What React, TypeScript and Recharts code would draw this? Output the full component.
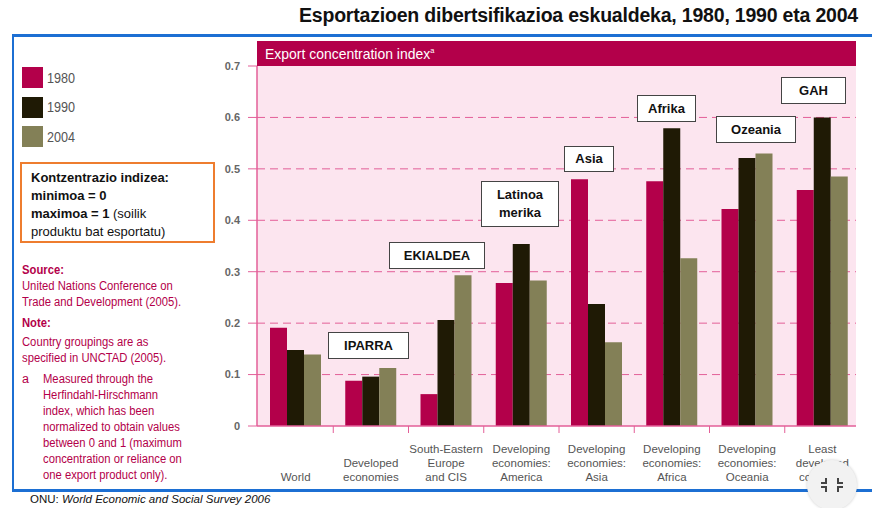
import React from "react"
import { BarChart, Bar, XAxis, YAxis, CartesianGrid } from "recharts"

const categories = [
  "World",
  "Developed economies",
  "South-Eastern Europe and CIS",
  "Developing economies: America",
  "Developing economies: Asia",
  "Developing economies: Africa",
  "Developing economies: Oceania",
  "Least developed countries",
]

const categoryLines = [
  ["World"],
  ["Developed", "economies"],
  ["South-Eastern", "Europe", "and CIS"],
  ["Developing", "economies:", "America"],
  ["Developing", "economies:", "Asia"],
  ["Developing", "economies:", "Africa"],
  ["Developing", "economies:", "Oceania"],
  ["Least", "developed", "countries"],
]

const values1980 = [0.191, 0.088, 0.062, 0.278, 0.48, 0.476, 0.422, 0.459]
const values1990 = [0.148, 0.096, 0.206, 0.354, 0.237, 0.579, 0.521, 0.6]
const values2004 = [0.139, 0.113, 0.293, 0.283, 0.163, 0.326, 0.53, 0.485]

const yTicks = [0, 0.1, 0.2, 0.3, 0.4, 0.5, 0.6, 0.7]
const gridValues = [0.1, 0.2, 0.3, 0.4, 0.5, 0.6]

const seriesNames = ["1980", "1990", "2004"]
const COLORS = ["#b3004a", "#1f1a05", "#838057"]

// region call-outs over the bars
const regionBoxes = [
  { text: ["IPARRA"], left: 328, top: 332, width: 81, height: 27 },
  { text: ["EKIALDEA"], left: 389, top: 242, width: 96, height: 27 },
  { text: ["Latinoa", "merika"], left: 481, top: 181, width: 78, height: 46 },
  { text: ["Asia"], left: 564, top: 146, width: 50, height: 26 },
  { text: ["Afrika"], left: 637, top: 95, width: 59, height: 27 },
  { text: ["Ozeania"], left: 716, top: 116, width: 80, height: 27 },
  { text: ["GAH"], left: 781, top: 77, width: 65, height: 27 },
]

const noteLines = [
  "Measured through the",
  "Herfindahl-Hirschmann",
  "index, which has been",
  "normalized to obtain values",
  "between 0 and 1 (maximum",
  "concentration or reliance on",
  "one export product only).",
]

const data = categories.map((name, i) => ({
  name,
  v1980: values1980[i],
  v1990: values1990[i],
  v2004: values2004[i],
}))

const PINK_LINE = "#e35f98"
const CRIMSON = "#b3004a"
const sans = "'Liberation Sans', Arial, sans-serif"

function CategoryTick(props: any) {
  const { x, y, payload } = props
  const lines = categoryLines[payload.index] || [payload.value]
  const half = payload.offset || 37.6
  const baseY = y + 55
  return (
    <g>
      {payload.index > 0 && (
        <line x1={x - half} x2={x - half} y1={y} y2={y + 7} stroke={PINK_LINE} strokeWidth={1} />
      )}
      {lines.map((l: string, i: number) => (
        <text
          key={i}
          x={x}
          y={baseY - (lines.length - 1 - i) * 14}
          textAnchor="middle"
          fill="#555"
          fontSize={11.5}
          fontFamily={sans}
        >
          {l}
        </text>
      ))}
    </g>
  )
}

const squeeze = { transform: "scaleX(0.9)", transformOrigin: "left center", whiteSpace: "nowrap" as const }

export default function App() {
  return (
    <div style={{ position: "absolute", left: 0, top: 0, width: 872, height: 508, background: "#fff", overflow: "hidden", fontFamily: sans }}>
      {/* title */}
      <div style={{ position: "absolute", left: 0, top: 4, width: 858, textAlign: "right", fontSize: 19.5, fontWeight: "bold", color: "#111", whiteSpace: "nowrap", letterSpacing: -0.2 }}>
        Esportazioen dibertsifikazioa eskualdeka, 1980, 1990 eta 2004
      </div>

      {/* blue frame */}
      <div style={{ position: "absolute", left: 12, top: 34, width: 880, height: 452, borderTop: "3px solid #1c6fd3", borderLeft: "2px solid #1c6fd3", borderBottom: "3px solid #1c6fd3" }} />

      {/* chart panel */}
      <div style={{ position: "absolute", left: 257, top: 41, width: 599, height: 385, background: "#fce5ef" }} />
      <div style={{ position: "absolute", left: 257, top: 41, width: 599, height: 25, background: CRIMSON }}>
        <span style={{ position: "absolute", left: 8, top: 4, color: "#fff", fontSize: 15, ...squeeze, transform: "scaleX(0.93)" }}>
          Export concentration index<sup style={{ fontSize: 8 }}>a</sup>
        </span>
      </div>

      <div style={{ position: "absolute", left: 0, top: 0, width: 856, height: 508, overflow: "hidden" }}>
        <BarChart
          width={860}
          height={508}
          data={data}
          margin={{ top: 66, right: 0, bottom: 22, left: 0 }}
          barGap={0}
          barSize={17}
        >
          <CartesianGrid
            vertical={false}
            horizontalValues={gridValues}
            stroke={PINK_LINE}
            strokeDasharray="8 5"
            strokeWidth={1}
          />
          <XAxis
            dataKey="name"
            height={60}
            padding={{ left: 1, right: 0 }}
            axisLine={{ stroke: PINK_LINE, strokeWidth: 1.5 }}
            tickLine={false}
            tickSize={0}
            tickMargin={0}
            interval={0}
            tick={<CategoryTick />}
          />
          <YAxis
            width={257}
            domain={[0, 0.7]}
            ticks={yTicks}
            allowDataOverflow
            axisLine={{ stroke: PINK_LINE, strokeWidth: 1.5 }}
            tickLine={{ stroke: PINK_LINE }}
            tickSize={9}
            tickMargin={8}
            tickFormatter={(v: number) => (v === 0 ? "0" : v.toFixed(1))}
            tick={{ fill: "#666", fontSize: 11, fontWeight: "bold", fontFamily: sans }}
          />
          <Bar dataKey="v1980" name={seriesNames[0]} fill={COLORS[0]} isAnimationActive={false} />
          <Bar dataKey="v1990" name={seriesNames[1]} fill={COLORS[1]} isAnimationActive={false} />
          <Bar dataKey="v2004" name={seriesNames[2]} fill={COLORS[2]} isAnimationActive={false} />
        </BarChart>
      </div>

      {/* region labels */}
      {regionBoxes.map((b) => (
        <div
          key={b.text.join("")}
          style={{
            position: "absolute",
            left: b.left,
            top: b.top,
            width: b.width,
            height: b.height,
            boxSizing: "border-box",
            border: "1.5px solid #444",
            background: "#fff",
            display: "flex",
            flexDirection: "column",
            alignItems: "center",
            justifyContent: "center",
            fontSize: 13,
            fontWeight: "bold",
            color: "#111",
            lineHeight: "18px",
          }}
        >
          {b.text.map((t) => (
            <div key={t}>{t}</div>
          ))}
        </div>
      ))}

      {/* legend */}
      {seriesNames.map((s, i) => (
        <div key={s} style={{ position: "absolute", left: 22, top: 67 + i * 29.5, height: 21, display: "flex", alignItems: "center" }}>
          <div style={{ width: 21, height: 21, background: COLORS[i] }} />
          <span style={{ marginLeft: 4, fontSize: 14, color: "#555", ...squeeze }}>{s}</span>
        </div>
      ))}

      {/* concentration note */}
      <div style={{ position: "absolute", left: 20, top: 162, width: 195, height: 81, boxSizing: "border-box", border: "2px solid #ee7d2f", padding: "5px 0 0 9px", fontSize: 13, lineHeight: "18px", color: "#111" }}>
        <div style={{ fontWeight: "bold" }}>Kontzentrazio indizea:</div>
        <div style={{ fontWeight: "bold" }}>minimoa = 0</div>
        <div><b>maximoa = 1</b> (soilik</div>
        <div>produktu bat esportatu)</div>
      </div>

      {/* source and notes */}
      <div style={{ position: "absolute", left: 22, top: 262, width: 200, color: CRIMSON, fontSize: 12.5, lineHeight: "16px" }}>
        <div style={{ fontWeight: "bold", ...squeeze }}>Source:</div>
        <div style={squeeze}>United Nations Conference on</div>
        <div style={squeeze}>Trade and Development (2005).</div>
        <div style={{ fontWeight: "bold", marginTop: 5, ...squeeze }}>Note:</div>
        <div style={{ marginTop: 3, ...squeeze }}>Country groupings are as</div>
        <div style={squeeze}>specified in UNCTAD (2005).</div>
        <div style={{ display: "flex", marginTop: 5 }}>
          <div style={{ width: 21 }}>a</div>
          <div>
            {noteLines.map((l) => (
              <div key={l} style={squeeze}>{l}</div>
            ))}
          </div>
        </div>
      </div>

      {/* footer */}
      <div style={{ position: "absolute", left: 30, top: 493, fontSize: 11.5, color: "#111" }}>
        ONU: <i>World Economic and Social Survey 2006</i>
      </div>

      {/* viewer button */}
      <div style={{ position: "absolute", left: 807, top: 460, width: 50, height: 50, borderRadius: 25, background: "#f2f2f2", boxShadow: "0 0 3px rgba(0,0,0,0.2)" }}>
        <svg width={50} height={50}>
          <g stroke="#444" strokeWidth={2} fill="none">
            <path d="M19 18 v5 h-5" />
            <path d="M31 18 v5 h5" />
            <path d="M19 32 v-5 h-5" />
            <path d="M31 32 v-5 h5" />
          </g>
        </svg>
      </div>
    </div>
  )
}
